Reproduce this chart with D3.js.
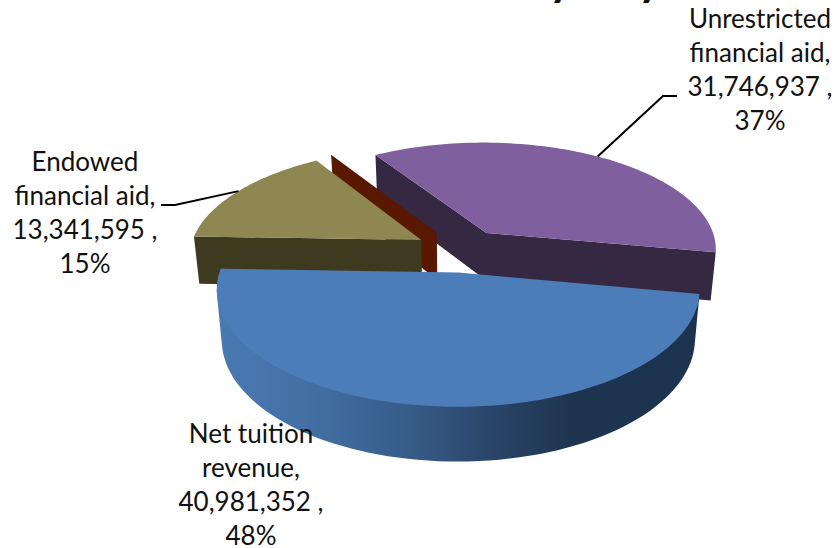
<!DOCTYPE html>
<html>
<head>
<meta charset="utf-8">
<script src="https://cdn.jsdelivr.net/npm/d3@7"></script>
<style>
  html, body { margin: 0; padding: 0; background: #fff; }
  svg { display: block; }
  text { font-family: Lato, "Open Sans", sans-serif; fill: #111; }
</style>
</head>
<body>
<script>
// Funding sources, clockwise from the right-hand edge of the net tuition slice.
const categories = ["Net tuition revenue", "Endowed financial aid", "Other", "Unrestricted financial aid"];
const amounts = [40981352, 13341595, 0, 31746937];
const percents = ["48%", "15%", "", "37%"];
const labelLines = [
  ["Net tuition", "revenue,", "40,981,352 ,", "48%"],
  ["Endowed", "financial aid,", "13,341,595 ,", "15%"],
  [],
  ["Unrestricted", "financial aid,", "31,746,937 ,", "37%"]
];
const topColors = ["#4c7db9", "#8f8751", "#5a1800", "#7f5f9e"];
const sideColors = ["url(#rimShade)", "#3e3a20", "#5a1800", "#352842"];

const width = 836, height = 548;
const svg = d3.select("body").append("svg").attr("width", width).attr("height", height);

// Pie plane: centre on screen, radii, perspective strength, thickness, slice pull-out.
const cx = 461, cy = 250.5, rx = 232, ry = 108, persp = 0.143, depth = 48, pull = 0.2;
const xNudge = [2.5, 0, 0, 0];
const startAngle = 100.5 * Math.PI / 180;

const pie = d3.pie().sort(null).value(d => d)
  .startAngle(startAngle).endAngle(startAngle + 2 * Math.PI);
const slices = pie(amounts);

// Maps a polar position on the pie to the screen; h = 0 is the top face, h = 1 the base.
function project(slice, angle, r, h) {
  const mid = (slice.startAngle + slice.endAngle) / 2;
  const u = r * Math.sin(angle) + pull * Math.sin(mid);
  const v = r * Math.cos(angle) + pull * Math.cos(mid);
  const s = 1 / (1 + persp * v);
  const f = 1 - 0.02 * h;
  return [cx + xNudge[slice.index] + rx * u * s * f, cy - ry * v * s * f + depth * h * s];
}

function rim(slice, from, to, h) {
  return d3.range(0, 81).map(i => project(slice, from + (to - from) * i / 80, 1, h));
}

const outline = d3.line().curve(d3.curveLinearClosed);

// Horizontal shading along the curved edge of the large slice.
const grad = svg.append("defs").append("linearGradient")
  .attr("id", "rimShade").attr("gradientUnits", "userSpaceOnUse")
  .attr("x1", 222).attr("x2", 690).attr("y1", 0).attr("y2", 0);
[[0, "#4a79b2"], [0.2, "#426fa3"], [0.42, "#355a85"], [0.58, "#2a4468"], [0.75, "#1e3550"], [1, "#1c3350"]]
  .forEach(([o, c]) => grad.append("stop").attr("offset", o).attr("stop-color", c));

const [blue, tan, sliver, purple] = slices;

function cutWall(slice, angle) {
  return [project(slice, angle, 1, 0), project(slice, angle, 0, 0),
          project(slice, angle, 0, 1), project(slice, angle, 1, 1)];
}
function topFace(slice) {
  return [project(slice, 0, 0, 0)].concat(rim(slice, slice.startAngle, slice.endAngle, 0));
}

const chart = svg.append("g");
function shape(points, fill) {
  chart.append("path").attr("d", outline(points)).attr("fill", fill);
}

// Back to front: purple slice, the empty slice's wall, tan slice, large blue slice.
const purpleEnd = purple.endAngle;
const purpleBody = [
  project(purple, purple.startAngle, 1, 0), project(purple, 0, 0, 0), project(purple, purpleEnd, 1, 0),
  project(purple, purpleEnd, 1, 1), project(purple, 0, 0, 1), project(purple, purple.startAngle, 1, 1)
];
shape(purpleBody, sideColors[3]);
shape(topFace(purple), topColors[3]);

shape(cutWall(sliver, sliver.startAngle), sideColors[2]);

shape(cutWall(tan, tan.startAngle), sideColors[1]);
shape(topFace(tan), topColors[1]);

// The hull of both rims gives the smooth silhouette where the round edge turns away.
const blueBody = d3.polygonHull(
  rim(blue, blue.startAngle, blue.endAngle, 0).concat(rim(blue, blue.startAngle, blue.endAngle, 1)));
shape(blueBody, sideColors[0]);
shape(topFace(blue), topColors[0]);

// Leader lines run from the middle of each slice's rim to its label.
const leader = d3.line();
function drawLeader(slice, elbow, end) {
  const mid = (slice.startAngle + slice.endAngle) / 2;
  svg.append("path")
    .attr("d", leader([project(slice, mid, 1, 0), elbow, end]))
    .attr("fill", "none").attr("stroke", "#000").attr("stroke-width", 2);
}
drawLeader(purple, [663, 96], [677, 96]);
drawLeader(tan, [175, 205], [161, 205]);

// Slice labels, one line of text per row.
const labelPlacement = [
  { x: 251, y: 443 },
  { x: 85, y: 171 },
  null,
  { x: 760, y: 28 }
];
const rowStep = 34;
labelLines.forEach((lines, i) => {
  if (!labelPlacement[i]) return;
  svg.append("g").selectAll("text").data(lines).join("text")
    .attr("x", labelPlacement[i].x)
    .attr("y", (d, k) => labelPlacement[i].y + k * rowStep)
    .attr("text-anchor", "middle")
    .attr("font-size", 26)
    .text(d => d);
});

// Chart heading sits mostly above the top of the frame; only descenders reach the page.
[561, 650].forEach(x => {
  svg.append("text").attr("x", x).attr("y", -5)
    .attr("text-anchor", "middle").attr("font-size", 46).attr("font-weight", 700)
    .text("y");
});
</script>
</body>
</html>
